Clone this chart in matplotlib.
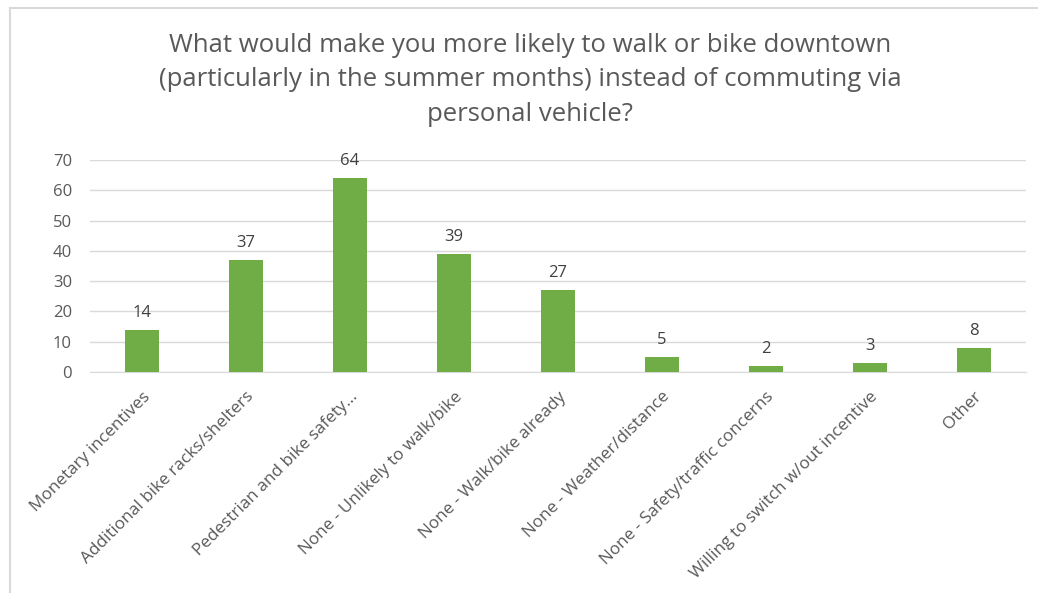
import matplotlib
matplotlib.use("Agg")
import matplotlib.pyplot as plt
from matplotlib.lines import Line2D

categories = ["Monetary incentives", "Additional bike racks/shelters", "Pedestrian and bike safety...",
              "None - Unlikely to walk/bike", "None - Walk/bike already", "None - Weather/distance",
              "None - Safety/traffic concerns", "Willing to switch w/out incentive", "Other"]
values = [14, 37, 64, 39, 27, 5, 2, 3, 8]
yticks = [0, 10, 20, 30, 40, 50, 60, 70]
title = ("What would make you more likely to walk or bike downtown\n"
         "(particularly in the summer months) instead of commuting via\n"
         "personal vehicle?")

plt.rcParams['font.family'] = ['Open Sans', 'DejaVu Sans']
W, H = 1038, 593
fig = plt.figure(figsize=(W/100, H/100), dpi=100)
ax = fig.add_axes([90/W, 1-372/H, (1026-90)/W, (372-160)/H])

x = list(range(len(categories)))
bars = ax.bar(x, values, width=0.32, color="#70ad47", zorder=3)
for xi, v in zip(x, values):
    ax.text(xi, v + 3, str(v), ha="center", va="bottom", fontsize=12, color="#404040")

ax.set_xlim(-0.5, len(categories) - 0.5)
ax.set_ylim(0, 70)
ax.set_yticks(yticks)
ax.yaxis.grid(True, color="#d9d9d9", linewidth=1, zorder=0)
for s in ["top", "right", "left"]:
    ax.spines[s].set_visible(False)
ax.spines["bottom"].set_color("#d9d9d9")
ax.tick_params(axis="both", length=0, colors="#595959", labelsize=12)
ax.tick_params(axis="y", pad=13)
ax.set_xticks(x)
ax.set_xticklabels(categories, rotation=45, ha="right", va="top", rotation_mode="anchor", fontsize=12.3)
ax.tick_params(axis="x", pad=12)

fig.text(530/W, 1-80/H, title, ha="center", va="center", fontsize=18.5, color="#595959", linespacing=1.5)

# outer chart frame (partially visible)
fig.add_artist(Line2D([10/W, 10/W], [0, 1-8/H], transform=fig.transFigure, color="#d9d9d9", lw=1.5))
fig.add_artist(Line2D([10/W, 1], [1-8/H, 1-8/H], transform=fig.transFigure, color="#d9d9d9", lw=1.5))

fig.savefig("out.png", dpi=100)
